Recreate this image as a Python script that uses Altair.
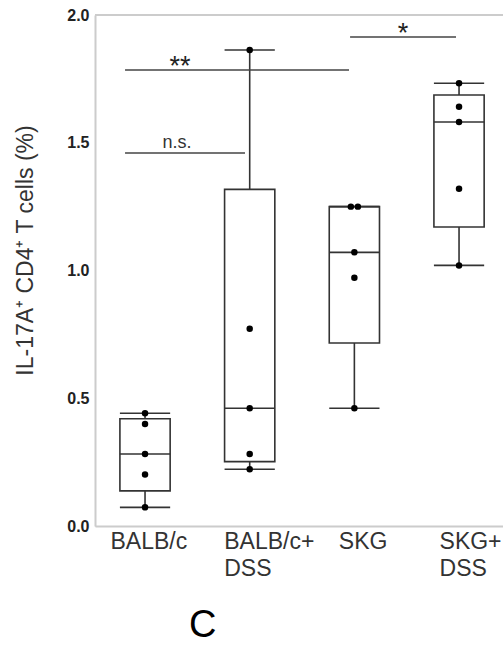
import altair as alt
import pandas as pd
import math

# ---------------- data ----------------
groups = ["BALB/c", "BALB/c+\nDSS", "SKG", "SKG+\nDSS"]
vals_balbc = [0.073, 0.202, 0.282, 0.399, 0.441]
vals_balbc_dss = [0.222, 0.282, 0.461, 0.772, 1.863]
vals_skg = [0.461, 0.972, 1.071, 1.250, 1.250]
vals_skg_dss = [1.020, 1.320, 1.581, 1.641, 1.733]

# significance brackets (x in group-index units, y in data units)
br_labels = ["n.s.", "**", "*"]
br_x1 = [0.809, 0.809, 2.959]
br_x2 = [1.955, 2.949, 3.971]
br_y = [1.46, 1.785, 1.914]
br_tx = [1.306, 1.334, 3.465]

y_ticks = [0.0, 0.5, 1.0, 1.5, 2.0]

# ---------------- derived tables ----------------
all_vals = [vals_balbc, vals_balbc_dss, vals_skg, vals_skg_dss]


def quant(v, p):
    s = sorted(v)
    n = len(s)
    pos = (n + 1) * p
    k = math.floor(pos)
    f = pos - k
    if k < 1:
        return s[0]
    if k >= n:
        return s[-1]
    return s[k - 1] + f * (s[k] - s[k - 1])


HW = 0.24  # half box width in index units
box_rows, pt_rows = [], []
for i, v in enumerate(all_vals, start=1):
    box_rows.append(dict(x=i, xl=i - HW, xr=i + HW, lo=min(v), q1=quant(v, 0.25),
                         med=quant(v, 0.5), q3=quant(v, 0.75), hi=max(v)))
    seen = {}
    for val in v:
        seen[val] = seen.get(val, 0) + 1
    cnt = {}
    for val in v:
        n = seen[val]
        k = cnt.get(val, 0)
        cnt[val] = k + 1
        off = (k - (n - 1) / 2) * 0.067 if n > 1 else 0.0
        pt_rows.append(dict(x=i + off, y=val))

box_df = pd.DataFrame(box_rows)
pt_df = pd.DataFrame(pt_rows)
br_df = pd.DataFrame(dict(x1=br_x1, x2=br_x2, y=br_y, tx=br_tx, lab=br_labels))

# ---------------- scales / axes ----------------
LC = "#333333"
XD = [0.522, 4.42]
label_expr = " : ".join(
    f"datum.value == {i} ? {[s for s in g.split(chr(10))]!r}" for i, g in enumerate(groups, start=1)
) + " : ''"

xscale = alt.Scale(domain=XD, nice=False, zero=False)
yscale = alt.Scale(domain=[0, 2.0], nice=False)

xaxis = alt.Axis(
    values=[1, 2, 3, 4], labelExpr=label_expr, title=None, ticks=False, grid=False,
    domainColor="#cccccc", domainWidth=2, labelFont="Liberation Sans", labelFontSize=23,
    labelColor="#333333", labelAlign="left", labelBaseline="top", labelPadding=4,
    labelLineHeight=27,
    labelOffset={"condition": [
        {"test": "datum.value == 1", "value": -35},
        {"test": "datum.value == 2", "value": -26},
        {"test": "datum.value == 3", "value": -16},
    ], "value": -20},
)
yaxis = alt.Axis(
    values=y_ticks, format=".1f", title="IL-17A\u207a CD4\u207a T cells (%)", ticks=False,
    grid=False, domainColor="#cccccc", domainWidth=2, labelFont="Liberation Sans",
    labelFontSize=16, labelFontWeight="bold", labelColor="#222222", labelPadding=6,
    titleFont="Liberation Sans", titleFontSize=23, titleFontWeight="normal",
    titleColor="#333333", titleX=-70, titleY=235, titleAngle=-90,
    titleAlign="center", titleBaseline="middle",
)

base_box = alt.Chart(box_df)

whisk_lo = base_box.mark_rule(color=LC, strokeWidth=1.6).encode(
    x=alt.X("x:Q", scale=xscale, axis=xaxis),
    y=alt.Y("lo:Q", scale=yscale, axis=yaxis), y2="q1:Q")
whisk_hi = base_box.mark_rule(color=LC, strokeWidth=1.6).encode(
    x="x:Q", y="q3:Q", y2="hi:Q")
cap_lo = base_box.mark_rule(color=LC, strokeWidth=1.6).encode(x="xl:Q", x2="xr:Q", y="lo:Q")
cap_hi = base_box.mark_rule(color=LC, strokeWidth=1.6).encode(x="xl:Q", x2="xr:Q", y="hi:Q")
box = base_box.mark_rect(fill="white", stroke=LC, strokeWidth=1.6).encode(
    x="xl:Q", x2="xr:Q", y="q1:Q", y2="q3:Q")
med = base_box.mark_rule(color=LC, strokeWidth=1.6).encode(x="xl:Q", x2="xr:Q", y="med:Q")

pts = alt.Chart(pt_df).mark_circle(color="black", opacity=1, size=42).encode(x="x:Q", y="y:Q")

br_line = alt.Chart(br_df).mark_rule(color="#444444", strokeWidth=1.4).encode(
    x="x1:Q", x2="x2:Q", y="y:Q")
br_ns = alt.Chart(br_df).transform_filter("datum.lab == 'n.s.'").mark_text(
    font="Liberation Sans", fontSize=18, color="#333333", baseline="middle", dy=-10
).encode(x="tx:Q", y="y:Q", text="lab:N")
br_star = alt.Chart(br_df).transform_filter("datum.lab != 'n.s.'").mark_text(
    font="Liberation Sans", fontSize=27, color="#222222", baseline="alphabetic", dy=5
).encode(x="tx:Q", y="y:Q", text="lab:N")

top_line = alt.Chart(box_df).mark_rule(color="#cccccc", strokeWidth=2).encode(y=alt.datum(2.0))

chart = alt.layer(
    top_line, whisk_lo, whisk_hi, box, med, cap_lo, cap_hi, pts, br_line, br_ns, br_star
).properties(
    width=408, height=511,
    autosize=alt.AutoSizeParams(type="none"),
    padding={"left": 95, "top": 15, "right": 0, "bottom": 121},
    title=alt.TitleParams("C", orient="bottom", anchor="start", frame="group", dx=94,
                          offset=27, font="Liberation Sans", fontSize=38,
                          fontWeight="normal", color="black"),
).configure_view(stroke=None).configure(background="white")

chart.save("out.html", embed_options={"renderer": "svg", "actions": False})
